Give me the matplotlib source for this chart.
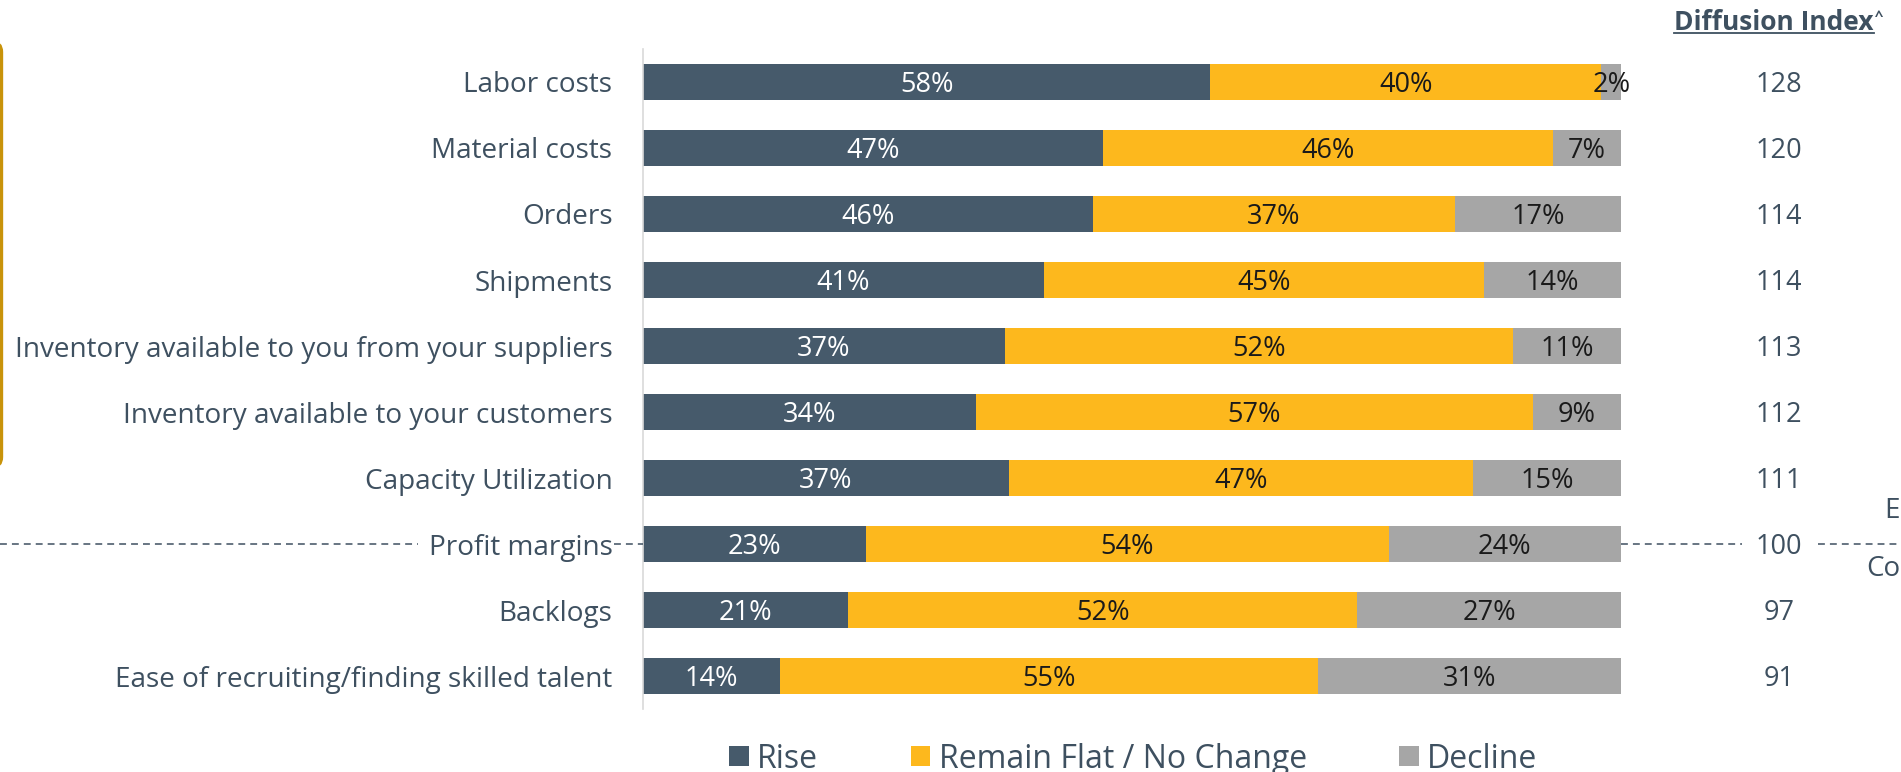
import matplotlib
matplotlib.use("Agg")
import matplotlib.pyplot as plt
from matplotlib.patches import FancyBboxPatch
from matplotlib.lines import Line2D
from matplotlib.transforms import IdentityTransform, blended_transform_factory
import numpy as np

# ==== DATA ====
categories = [
    "Labor costs",
    "Material costs",
    "Orders",
    "Shipments",
    "Inventory available to you from your suppliers",
    "Inventory available to your customers",
    "Capacity Utilization",
    "Profit margins",
    "Backlogs",
    "Ease of recruiting/finding skilled talent",
]
rise = [58, 47, 46, 41, 37, 34, 37, 23, 21, 14]
flat = [40, 46, 37, 45, 52, 57, 47, 54, 52, 55]
decline = [2, 7, 17, 14, 11, 9, 15, 24, 27, 31]
diffusion_index = [128, 120, 114, 114, 113, 112, 111, 100, 97, 91]
series_names = ["Rise", "Remain Flat / No Change", "Decline"]
neutral_row = "Profit margins"

# ==== STYLE ====
COL_RISE = "#465A6B"
COL_FLAT = "#FDB81D"
COL_DECL = "#A6A6A6"
TXT = "#3E5060"
DARK = "#1A1A1A"

plt.rcParams["font.family"] = ["Open Sans", "DejaVu Sans"]

W, H = 1901, 772
fig = plt.figure(figsize=(W / 100, H / 100), dpi=100)
ax = fig.add_axes([643 / W, 1 - 709 / H, (1621 - 643) / W, (709 - 49) / H])

vals = np.array([rise, flat, decline], dtype=float)
shares = vals / vals.sum(axis=0) * 100  # rows are rounded, stretch to 100%
y = np.arange(len(categories))
left = np.zeros(len(categories))
for name, share, raw, col, tcol in zip(series_names, shares, vals,
                                       [COL_RISE, COL_FLAT, COL_DECL],
                                       ["white", DARK, DARK]):
    ax.barh(y, share, left=left, height=0.55, color=col, label=name)
    for yi, l, s, r in zip(y, left, share, raw):
        ax.text(l + s / 2, yi, f"{r:.0f}%", ha="center", va="center_baseline",
                fontsize=19.5, color=tcol)
    left += share

ax.set_xlim(0, 100)
ax.set_ylim(len(categories) - 0.5, -0.5)
ax.set_xticks([])
ax.set_yticks(y, categories, fontsize=20.1, color=TXT)
ax.tick_params(axis="y", length=0, pad=22)
for s in ["top", "right", "bottom"]:
    ax.spines[s].set_visible(False)
ax.spines["left"].set_color("#D9D9D9")
ax.spines["left"].set_linewidth(1.2)

# diffusion index column
tr = blended_transform_factory(fig.transFigure, ax.transData)
for yi, v in zip(y, diffusion_index):
    fig.text(1779 / W, yi, f"{v}", transform=tr, ha="center",
             va="center_baseline", fontsize=19.5, color=TXT)

# dashed neutral line (index = 100)
yn = categories.index(neutral_row)
for x0, x1 in [(0, 418), (614, 643), (1621, 1742), (1818, W)]:
    fig.add_artist(Line2D([x0 / W, x1 / W], [yn, yn], transform=tr,
                          color=TXT, lw=1.1, dashes=(4.5, 3.3)))

# side labels, cut by the page edge in the source
fig.text(1884 / W, 1 - 511 / H, "E", ha="left", va="center",
         fontsize=20, color=TXT)
fig.text(1866 / W, 1 - 569 / H, "Co", ha="left", va="center",
         fontsize=20, color=TXT)

# header
hdr = fig.text(1774 / W, 1 - 30 / H, "Diffusion Index", ha="center",
               va="baseline", fontsize=19, fontweight="bold", color=TXT)
fig.canvas.draw()
bb = hdr.get_window_extent().transformed(fig.transFigure.inverted())
fig.add_artist(Line2D([bb.x0, bb.x1], [1 - 33 / H, 1 - 33 / H],
                      transform=fig.transFigure, color=TXT, lw=1.3))
fig.text(bb.x1 + 1 / W, 1 - 10 / H, "^", ha="left", va="top",
         fontsize=11, fontweight="bold", color=TXT)

# gold frame cut off at left edge
fig.add_artist(FancyBboxPatch((-300, H - 467), 301.5, 467 - 42,
                              boxstyle="round,pad=0,rounding_size=10",
                              transform=IdentityTransform(),
                              facecolor="none", edgecolor="#C8930A", lw=2.4))

# legend
fig.legend(*ax.get_legend_handles_labels(), loc="center",
           bbox_to_anchor=(1133.5 / W, 1 - 759 / H), ncol=3, frameon=False,
           fontsize=23, handlelength=0.6, handleheight=0.6,
           handletextpad=0.27, columnspacing=2.9, labelcolor=TXT)

fig.savefig("out.png", dpi=100)
